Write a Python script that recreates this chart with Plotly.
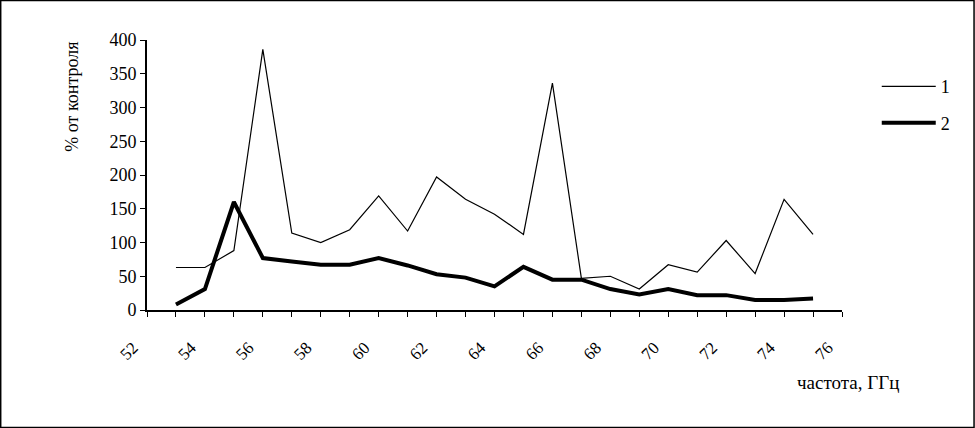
import plotly.graph_objects as go

# частота, ГГц
freq = list(range(53, 76))

# % от контроля
series_1 = [63, 63, 88, 386, 114, 100, 119, 169, 117, 197, 164, 142, 112,
            336, 47, 50, 31, 67, 56, 103, 54, 164, 112]
series_2 = [8, 31, 160, 77, 72, 67, 67, 77, 66, 53, 48, 35, 64,
            45, 45, 31, 23, 31, 22, 22, 15, 15, 17]

x_ticks = list(range(52, 77, 2))
y_ticks = list(range(0, 401, 50))

FONT = "Liberation Serif, Times New Roman, serif"

fig = go.Figure()

fig.add_trace(go.Scatter(
    x=freq, y=series_1, name="1", mode="lines",
    line=dict(color="black", width=1.2),
    legendgroup="a"
))
fig.add_trace(go.Scatter(
    x=freq, y=series_2, name="2", mode="lines",
    line=dict(color="black", width=4),
    legendgroup="b"
))

fig.update_layout(
    width=975,
    height=428,
    margin=dict(l=147, r=133, t=40, b=118),
    paper_bgcolor="white",
    plot_bgcolor="white",
    font=dict(family=FONT, size=17, color="black"),
    showlegend=True,
    legend=dict(
        x=1.05, y=0.896, xanchor="left", yanchor="top",
        font=dict(family=FONT, size=18),
        itemwidth=54,
        tracegroupgap=10,
        bgcolor="rgba(0,0,0,0)",
    ),
    xaxis=dict(
        range=[52, 76],
        tickmode="array",
        tickvals=x_ticks,
        tickangle=-45,
        ticks="outside",
        ticklen=5,
        tickcolor="black",
        showline=True,
        linecolor="black",
        linewidth=2,
        showgrid=False,
        zeroline=False,
        minor=dict(dtick=1, ticks="outside", ticklen=5, tickcolor="black", showgrid=False),
        ticklabelstandoff=14,
        ticklabelshift=-14,
        tickfont=dict(family=FONT, size=17),
    ),
    yaxis=dict(
        range=[0, 400],
        tickvals=y_ticks,
        ticks="outside",
        ticklen=5,
        tickcolor="black",
        showline=True,
        linecolor="black",
        linewidth=2,
        showgrid=False,
        zeroline=False,
        tickfont=dict(family=FONT, size=18),
    ),
    annotations=[
        dict(text="% от контроля", xref="paper", yref="paper",
             x=-0.108, y=0.79, xanchor="center", yanchor="middle",
             textangle=-90, showarrow=False, font=dict(family=FONT, size=18)),
        dict(text="частота, ГГц", xref="paper", yref="paper",
             x=1.009, y=-0.267, xanchor="center", yanchor="middle",
             showarrow=False, font=dict(family=FONT, size=19)),
    ],
    shapes=[
        dict(type="rect", xref="paper", yref="paper",
             x0=-0.2105, x1=1.19, y0=-0.435, y1=1.146,
             line=dict(color="black", width=1.5)),
    ],
)

fig.write_html(
    "out.html",
    config={"displayModeBar": False},
    post_script="document.body.style.margin='0';",
)
